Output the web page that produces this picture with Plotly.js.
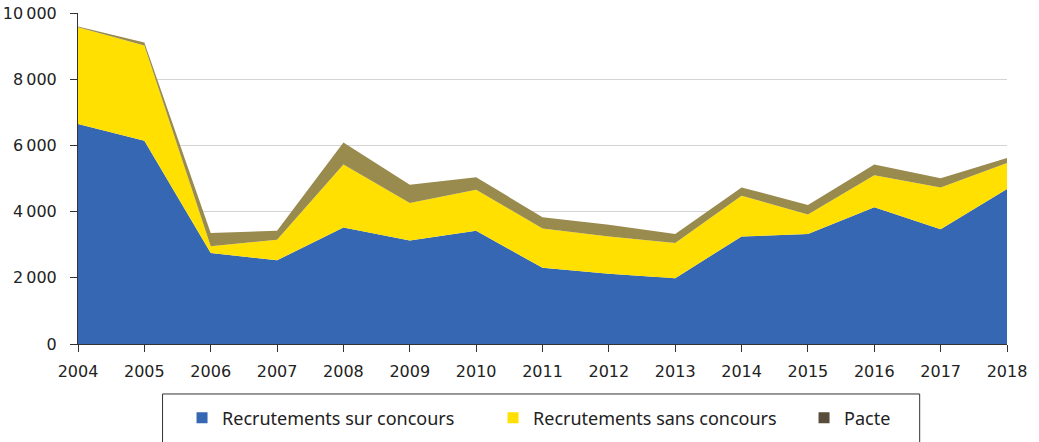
<!DOCTYPE html>
<html>
<head>
<meta charset="utf-8">
<script src="https://cdn.plot.ly/plotly-3.0.1.min.js"></script>
<style>html,body{margin:0;padding:0;background:#fff;}#chart{width:1039px;height:442px;}</style>
</head>
<body>
<div id="chart"></div>
<script>
const years = [2004,2005,2006,2007,2008,2009,2010,2011,2012,2013,2014,2015,2016,2017,2018];
const surConcours = [6650,6140,2750,2530,3520,3130,3420,2300,2120,1990,3250,3320,4130,3470,4680];
const sansConcours = [2920,2880,200,620,1900,1130,1240,1190,1130,1060,1230,590,970,1260,790];
const pacte = [20,90,400,270,670,550,380,340,350,270,250,290,320,280,150];
const seriesNames = ["Recrutements sur concours","Recrutements sans concours","Pacte"];
const yTickVals = [0,2000,4000,6000,8000,10000];
const yTickText = ["0","2\u2009000","4\u2009000","6\u2009000","8\u2009000","10\u2009000"];

const fills = ["#3567B2","#FFE000","#998B4E"];
const swatches = ["#3567B2","#FFE000","#584C3A"];
const vals = [surConcours, sansConcours, pacte];

const traces = [];
vals.forEach((v,i)=>{
  traces.push({x: years, y: v, type:"scatter", mode:"lines", stackgroup:"one",
    line:{width:0}, fillcolor: fills[i], name: seriesNames[i], showlegend:false, hoverinfo:"x+y+name"});
});
vals.forEach((v,i)=>{
  traces.push({x:[null], y:[null], type:"scatter", mode:"markers", name: seriesNames[i],
    marker:{symbol:"square", size:11, color: swatches[i]}, showlegend:true});
});

const tickFont = {family:"DejaVu Sans, sans-serif", size:16, color:"#222"};
const layout = {
  width:1039, height:442,
  margin:{l:78, r:32, t:13, b:98},
  paper_bgcolor:"#fff", plot_bgcolor:"#fff",
  font:{family:"Noto Sans, Open Sans, sans-serif", color:"#222", size:16},
  showlegend:true,
  xaxis:{range:[2004,2018], tickvals: years, ticktext: years.map(String),
    showgrid:false, zeroline:false, showline:true, linecolor:"#333", linewidth:1,
    ticks:"outside", ticklen:7, tickcolor:"#333", tickfont:tickFont, ticklabelstandoff:6},
  yaxis:{range:[0,10000], tickvals: yTickVals, ticktext: yTickText,
    showgrid:true, gridcolor:"#d4d4d4", gridwidth:1, zeroline:false,
    showline:true, linecolor:"#333", linewidth:1, ticks:"outside", ticklen:7, tickcolor:"#333",
    tickfont:tickFont, ticklabelstandoff:10},
  legend:{orientation:"h", x:0.1752, xanchor:"left", xref:"container", yref:"container", y:0.0543, yanchor:"middle",
    font:{family:"Noto Sans, sans-serif", size:18, color:"#222"}, bgcolor:"rgba(0,0,0,0)", borderwidth:0,
    entrywidth:266, entrywidthmode:"pixels", traceorder:"normal"},
  shapes:[{type:"rect", xref:"paper", yref:"paper", x0:0.091, x1:0.906, y0:-0.151, y1:-0.6,
    line:{color:"#333", width:1}, fillcolor:"rgba(0,0,0,0)"}]
};
Plotly.newPlot("chart", traces, layout, {displayModeBar:false, staticPlot:true});
</script>
</body>
</html>
